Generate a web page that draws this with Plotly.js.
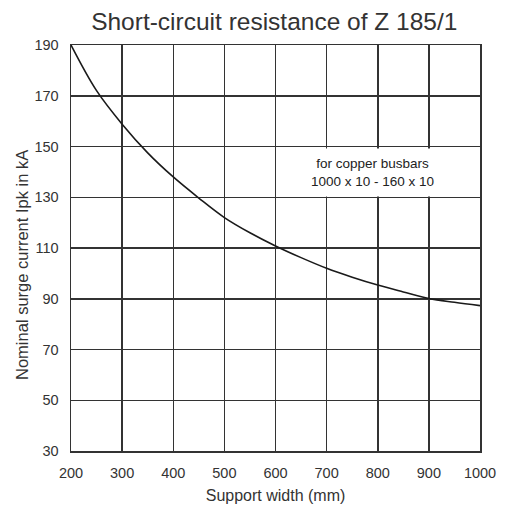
<!DOCTYPE html>
<html>
<head>
<meta charset="utf-8">
<script src="https://cdn.plot.ly/plotly-3.0.1.min.js"></script>
<style>html,body{margin:0;padding:0;background:#fff;}#chart{width:507px;height:508px;}</style>
</head>
<body>
<div id="chart"></div>
<script>
var supportWidth = [200, 250, 300, 350, 400, 450, 500, 550, 600, 650, 700, 750, 800, 850, 900, 950, 1000];
var surgeCurrent = [190, 172, 158.8, 147.5, 138, 129.7, 122, 116, 110.8, 106.2, 102, 98.5, 95.4, 92.7, 90.1, 88.6, 87.3];
var xTicks = [200, 300, 400, 500, 600, 700, 800, 900, 1000];
var yTicks = [30, 50, 70, 90, 110, 130, 150, 170, 190];
var titleText = 'Short-circuit resistance of Z 185/1';
var xTitle = 'Support width (mm)';
var yTitle = 'Nominal surge current Ipk in kA';
var noteLines = ['for copper busbars', '1000 x 10 - 160 x 10'];
var noteX = 789, noteY = 139.8;

var font = 'Liberation Sans, Arial, Helvetica, sans-serif';
var txt = '#333';
var trace = {
  x: supportWidth, y: surgeCurrent, type: 'scatter', mode: 'lines',
  line: {color: '#1a1a1a', width: 1.6, shape: 'spline'}, hoverinfo: 'none'
};
var layout = {
  width: 507, height: 508,
  margin: {l: 71, r: 27, t: 45, b: 57},
  paper_bgcolor: '#fff', plot_bgcolor: '#fff',
  showlegend: false,
  font: {family: font, color: txt, size: 13},
  title: {text: titleText, font: {family: font, size: 24.5, color: txt}, x: 0.541, xanchor: 'center', y: 0.957, yanchor: 'middle'},
  xaxis: {
    range: [200, 1000], tickvals: xTicks, ticktext: xTicks.map(String),
    showgrid: true, gridcolor: '#333', gridwidth: 1.5,
    showline: true, linecolor: '#333', linewidth: 1.5, mirror: true,
    zeroline: false, ticks: '', ticklabelstandoff: 8,
    tickfont: {family: font, size: 14.5, color: txt},
    title: {text: xTitle, font: {family: font, size: 16, color: txt}, standoff: 10}
  },
  yaxis: {
    range: [30, 190], tickvals: yTicks, ticktext: yTicks.map(String),
    showgrid: true, gridcolor: '#333', gridwidth: 1.5,
    showline: true, linecolor: '#333', linewidth: 1.5, mirror: true,
    zeroline: false, ticks: '', ticklabelstandoff: 8,
    tickfont: {family: font, size: 14.5, color: txt}
  },
  annotations: [{
    x: noteX, y: noteY, xref: 'x', yref: 'y', showarrow: false,
    text: noteLines.join('<br>'), align: 'center', xanchor: 'center', yanchor: 'middle',
    font: {family: font, size: 13.5, color: '#222'}, bgcolor: '#fff', borderpad: 7
  }, {
    x: -0.12, y: 0.458, xref: 'paper', yref: 'paper', showarrow: false,
    text: yTitle, textangle: -90, xanchor: 'center', yanchor: 'middle',
    font: {family: font, size: 16.5, color: txt}
  }]
};
Plotly.newPlot('chart', [trace], layout, {staticPlot: true, displayModeBar: false});
</script>
</body>
</html>
